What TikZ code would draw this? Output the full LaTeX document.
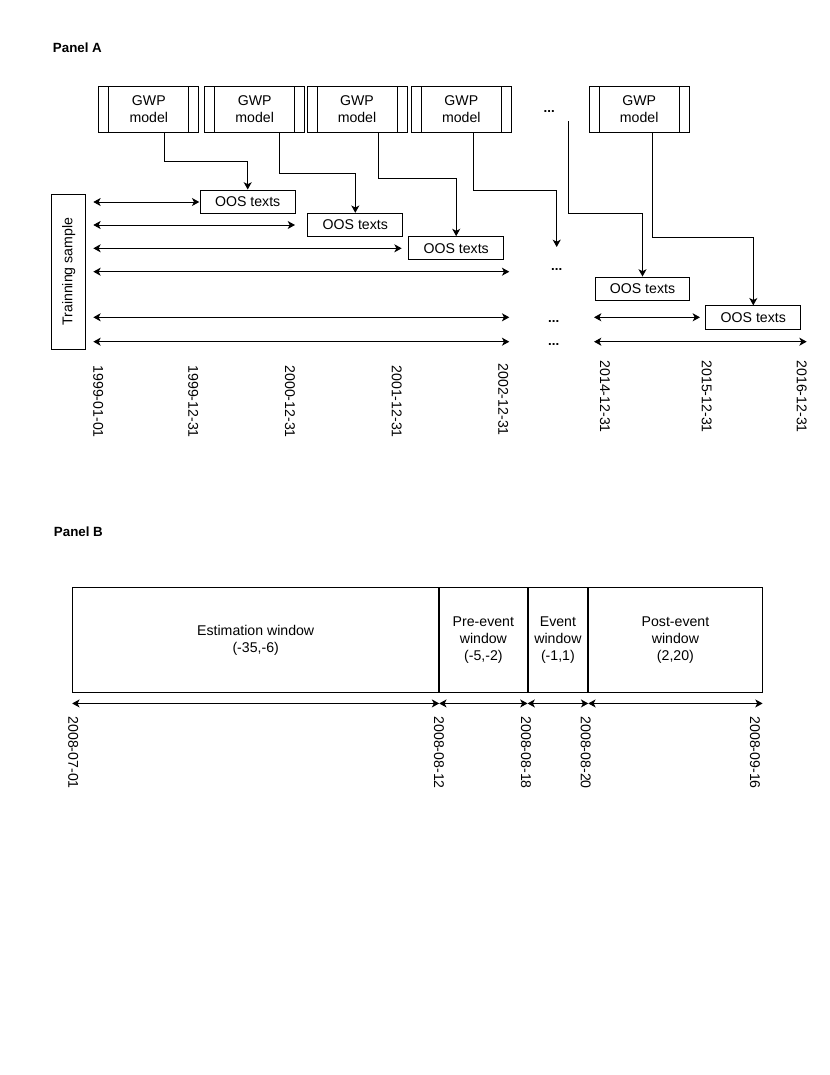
\documentclass[tikz,border=0pt]{standalone}
\usepackage{fontspec}
\setmainfont{Liberation Sans}
\usetikzlibrary{arrows.meta,positioning}

\begin{document}
\begin{tikzpicture}[x=0.75pt,y=-0.75pt,font=\fontsize{10.6}{13}\selectfont,line width=0.75pt,>={Stealth[length=5.5pt,width=6pt,inset=1.5pt]},
gwp/.style={draw,align=center,minimum width=75pt,minimum height=34.5pt,inner sep=0pt,path picture={\draw ([xshift=7.5pt]path picture bounding box.north west)--([xshift=7.5pt]path picture bounding box.south west); \draw ([xshift=-7.5pt]path picture bounding box.north east)--([xshift=-7.5pt]path picture bounding box.south east);}},
oos/.style={draw,minimum width=71pt,minimum height=17.5pt,inner sep=0pt},
win/.style={draw,align=center,minimum height=79pt,inner sep=0pt},
date/.style={rotate=-90,anchor=west,inner sep=0pt},
dots/.style={font=\bfseries},
arr/.style={->},dbl/.style={<->}]
\useasboundingbox (0,0) rectangle (830,1075);
% Panel A
\node[font=\bfseries,anchor=west] (pa) at (48,48) {Panel A};
\node[gwp] (m1) at (148.8,109) {GWP\\model};
\node[gwp] (m2) at (254.7,109) {GWP\\model};
\node[gwp] (m3) at (357,109) {GWP\\model};
\node[gwp] (m4) at (461.3,109) {GWP\\model};
\node[gwp] (m5) at (639.2,109) {GWP\\model};
\node[dots] (e0) at (549.3,112) {...};
\node[oos] (o1) at (247.7,201.7) {OOS texts};
\node[oos] (o2) at (355.3,225) {OOS texts};
\node[oos] (o3) at (456.2,248.3) {OOS texts};
\node[oos] (o4) at (642.5,288.7) {OOS texts};
\node[oos] (o5) at (753.3,317.5) {OOS texts};
\node[draw,rotate=90,minimum width=116.5pt,minimum height=25.7pt,inner sep=0pt] (ts) at (68.8,271.7) {Trainning sample};
\draw[arr] (m1.south) ++(15.2,0) -- ++(0,28.7) -| (o1.north);
\draw[arr] (m2.south) ++(24.6,0) -- ++(0,40.7) -| (o2.north);
\draw[arr] (m3.south) ++(21.3,0) -- ++(0,46.3) -| (o3.north);
\coordinate (c4) at (556.7,247);
\draw[arr] (m4.south) ++(12,0) -- ++(0,58) -| (c4);
\coordinate (c0) at (568.7,121);
\draw[arr] (c0) -- ++(0,92.3) -| (o4.north);
\draw[arr] (m5.south) ++(12.8,0) -- ++(0,104.7) -| (o5.north);
\foreach \i/\y/\e in {1/202/199.3,2/225/295,3/248.3/401.7,4/271.7/509.3,5/317.3/509.3,6/341.7/509.3}{
  \coordinate (a\i) at (93.3,\y); \coordinate (b\i) at (\e,\y);
  \draw[dbl] (a\i) -- (b\i);
}
\coordinate (r5) at (594,317.3); \coordinate (q5) at (700,317.3);
\draw[dbl] (r5) -- (q5);
\coordinate (r6) at (594,341.7); \coordinate (q6) at (806.7,341.7);
\draw[dbl] (r6) -- (q6);
\node[dots] (e4) at (556.7,269.3) {...};
\node[dots] (e5) at (553.7,321.7) {...};
\node[dots] (e6) at (553.7,345) {...};
\foreach \n/\x/\y/\t in {1/98.3/365/1999-01-01,2/193.3/365/1999-12-31,3/290/365/2000-12-31,4/396.7/365/2001-12-31,5/503.3/363/2002-12-31,6/605/360/2014-12-31,7/706.7/360/2015-12-31,8/801.7/360/2016-12-31}
  \node[date] (d\n) at (\x,\y) {\t};
% Panel B
\node[font=\bfseries,anchor=west] (pb) at (49,531.7) {Panel B};
\node[win,minimum width=274.5pt] (w1) at (255.7,640) {Estimation window\\(-35,-6)};
\node[win,minimum width=65.5pt,right=0pt of w1] (w2) {Pre-event\\window\\(-5,-2)};
\node[win,minimum width=44.8pt,right=0pt of w2] (w3) {Event\\window\\(-1,1)};
\node[win,minimum width=130pt,right=0pt of w3] (w4) {Post-event\\window\\(2,20)};
\foreach \w in {w1,w2,w3,w4}
  \draw[dbl] ([yshift=-7.7pt]\w.south west) -- ([yshift=-7.7pt]\w.south east);
\foreach \n/\x/\t in {1/73.3/2008-07-01,2/439/2008-08-12,3/526/2008-08-18,4/585.7/2008-08-20,5/755/2008-09-16}
  \node[date] (f\n) at (\x,716) {\t};
\end{tikzpicture}
\end{document}
